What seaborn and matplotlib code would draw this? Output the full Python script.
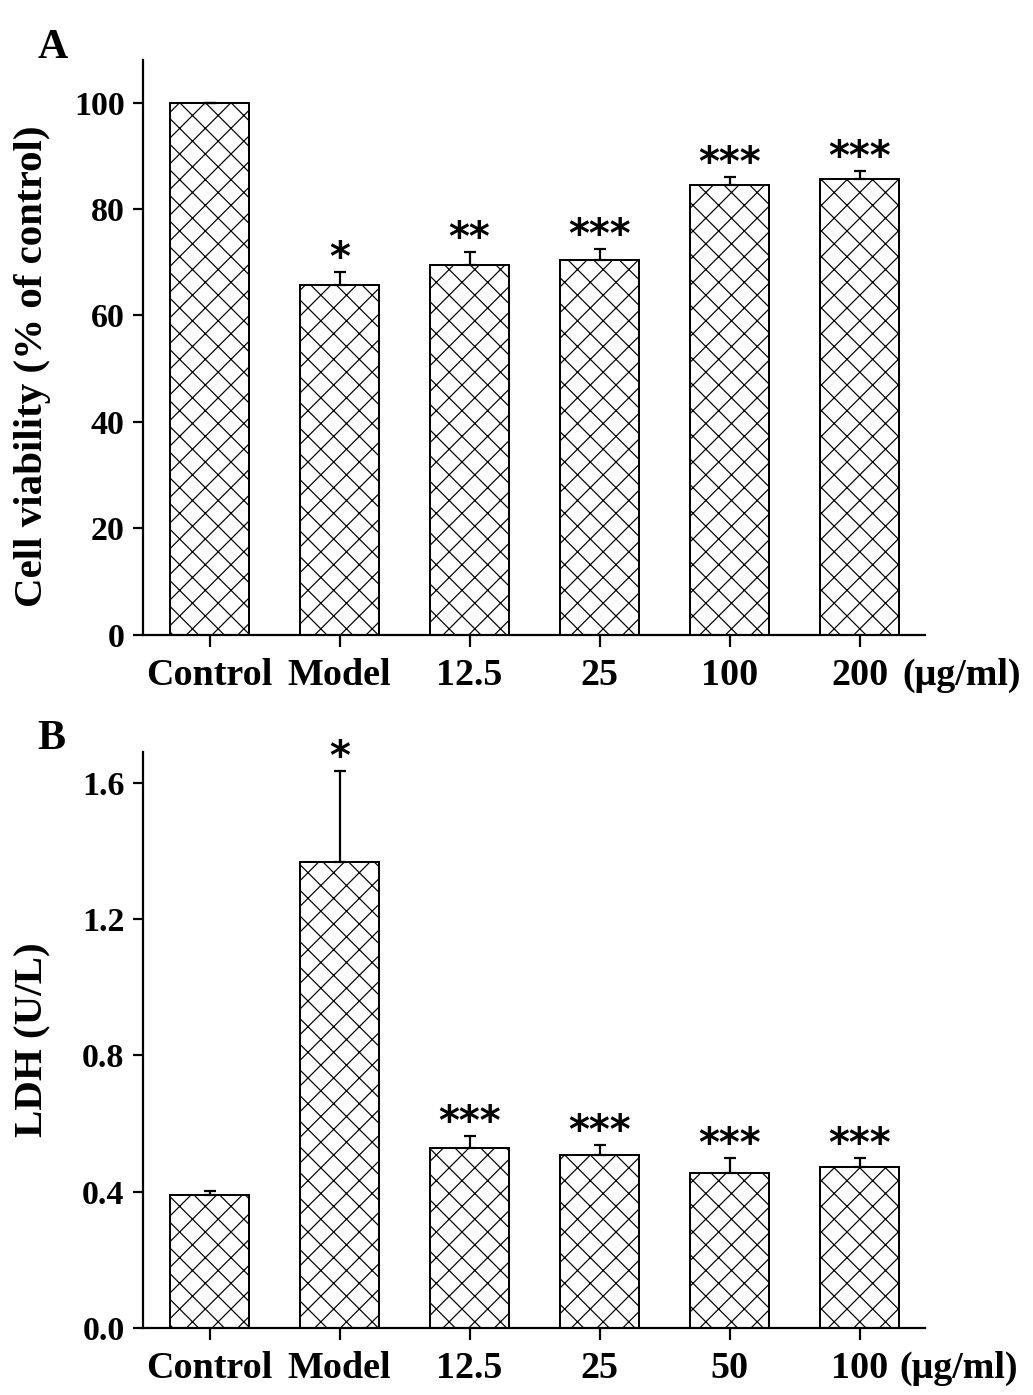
import matplotlib.pyplot as plt
import seaborn as sns
import numpy as np
import pandas as pd

# panel A: cell viability
groups_a = ['Control', 'Model', '12.5', '25', '100', '200']
viability = [100.0, 65.7, 69.4, 70.5, 84.6, 85.7]
viability_err = [0.0, 2.4, 2.5, 1.9, 1.5, 1.4]
stars_a = ['', '*', '**', '***', '***', '***']

# panel B: LDH
groups_b = ['Control', 'Model', '12.5', '25', '50', '100']
ldh = [0.391, 1.368, 0.529, 0.509, 0.456, 0.471]
ldh_err = [0.012, 0.267, 0.033, 0.029, 0.044, 0.029]
stars_b = ['', '*', '***', '***', '***', '***']

# low dpi so the crosshatch comes out as dense as in the original
DPI = 77


def pt(px):
    return px * 72.0 / DPI


sns.set_style('ticks')
plt.rcParams['font.family'] = ['Liberation Serif', 'DejaVu Serif']
plt.rcParams['font.weight'] = 'bold'
plt.rcParams['hatch.linewidth'] = pt(1.2)
plt.rcParams['hatch.color'] = '#1a1a1a'
for k in ['text.color', 'axes.labelcolor', 'xtick.color', 'ytick.color', 'axes.edgecolor']:
    plt.rcParams[k] = 'black'

fig = plt.figure(figsize=(1033 / DPI, 1395 / DPI), dpi=DPI)
ax_a = fig.add_axes([0.138, 0.545, 0.757, 0.412])
ax_b = fig.add_axes([0.138, 0.048, 0.757, 0.413])


def draw_panel(ax, groups, vals, errs, stars, ylim, yticks, ylabel, fmt, unit_x):
    df = pd.DataFrame({'group': groups, 'value': vals})
    sns.barplot(data=df, x='group', y='value', ax=ax, color='white',
                edgecolor='black', linewidth=pt(2), width=0.61, errorbar=None)
    for p in ax.patches:
        p.set_hatch('x')
        p.set_facecolor('white')
    x = np.arange(len(groups))
    ax.errorbar(x, vals, yerr=[np.zeros(len(errs)), errs], fmt='none',
                ecolor='black', elinewidth=pt(2.2), capsize=pt(6), capthick=pt(2.2))
    for i, s in enumerate(stars):
        if s:
            ax.annotate(s, xy=(x[i], vals[i] + errs[i]), xytext=(0, -pt(7)),
                        textcoords='offset points', ha='center', va='bottom',
                        fontsize=pt(40), fontweight='bold', family='DejaVu Sans')
    ax.set_xlim(-0.515, 5.5)
    ax.set_ylim(*ylim)
    ax.set_yticks(yticks)
    ax.set_yticklabels([fmt.format(v) for v in yticks])
    ax.set_xlabel('')
    ax.set_ylabel(ylabel, fontsize=pt(41), fontweight='bold')
    sns.despine(ax=ax)
    ax.spines['left'].set_linewidth(pt(2.2))
    ax.spines['bottom'].set_linewidth(pt(2.2))
    ax.tick_params(axis='y', labelsize=pt(34), width=pt(2.2), length=pt(10),
                   direction='out', pad=pt(8))
    ax.tick_params(axis='x', labelsize=pt(38), width=pt(2.2), length=pt(12),
                   direction='out', pad=pt(11))
    for lab in ax.get_xticklabels() + ax.get_yticklabels():
        lab.set_fontweight('bold')
    ax.annotate('(μg/ml)', xy=(unit_x, 0), xycoords=('data', 'axes fraction'),
                xytext=(0, -pt(23)), textcoords='offset points',
                ha='left', va='top', fontsize=pt(38), fontweight='bold',
                annotation_clip=False)


draw_panel(ax_a, groups_a, viability, viability_err, stars_a, (0, 108),
           [0, 20, 40, 60, 80, 100], 'Cell viability (% of control)', '{:.0f}', 5.33)
draw_panel(ax_b, groups_b, ldh, ldh_err, stars_b, (0, 1.69),
           [0.0, 0.4, 0.8, 1.2, 1.6], 'LDH (U/L)', '{:.1f}', 5.31)

ax_a.yaxis.set_label_coords(-0.117, 0.467)
ax_b.yaxis.set_label_coords(-0.117, 0.5)

fig.text(0.036, 0.979, 'A', fontsize=pt(42), fontweight='bold', va='top')
fig.text(0.036, 0.484, 'B', fontsize=pt(42), fontweight='bold', va='top')

fig.savefig('out.png', dpi=DPI)
